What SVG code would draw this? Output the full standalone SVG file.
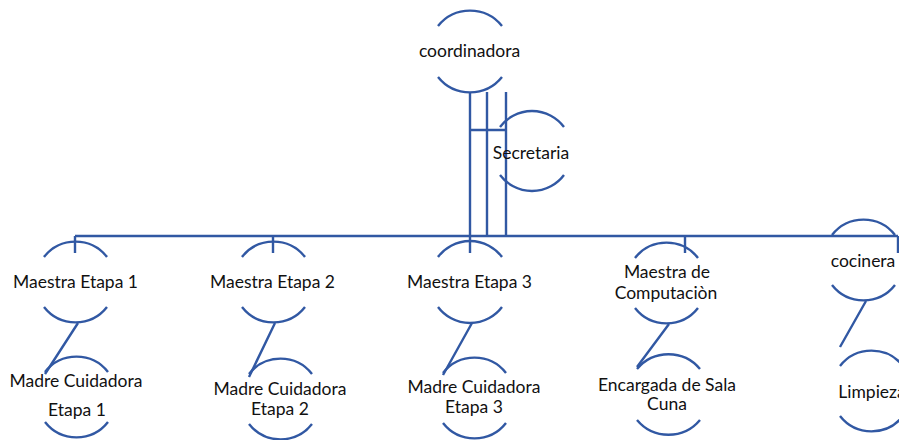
<svg xmlns="http://www.w3.org/2000/svg" width="899" height="440" viewBox="0 0 899 440">
<style>
.ln{fill:none;stroke:#3158A3;stroke-width:2.4;stroke-linecap:butt}
.arc{fill:none;stroke:#3158A3;stroke-width:2.4}
text{font-family:Lato,"Liberation Sans",sans-serif;font-size:17.5px;fill:#111;text-anchor:middle}
</style>
<rect width="899" height="440" fill="#fff"/>
<g id="connectors">
<path class="ln" d="M470 92V253M487 92V236M506 92V236M470 130H506"/>
<path class="ln" d="M75 236H898M75 236V253M273 236V253M685 236V253M898 236V253"/>
<path class="ln" d="M78 323L45 374M275 323L249 377M472 323L443 375M669 324L637 367M866 301L840 347"/>
</g>
<g id="coordinadora">
<path class="arc" d="M438 26A41 41 0 0 1 502 26M438 77A41 41 0 0 0 502 77"/>
<text x="469.5" y="57">coordinadora</text>
</g>
<g id="secretaria">
<path class="arc" d="M500 127A40 40 0 0 1 564 127M500 175A40 40 0 0 0 564 175"/>
<text x="531" y="159">Secretaria</text>
</g>
<g id="maestra1">
<path class="arc" d="M44 257A40 40 0 0 1 107 257M44 307A40 40 0 0 0 107 307"/>
<text x="75.5" y="288">Maestra Etapa 1</text>
</g>
<g id="maestra2">
<path class="arc" d="M242 257A40 40 0 0 1 305 257M242 307A40 40 0 0 0 305 307"/>
<text x="272.5" y="288">Maestra Etapa 2</text>
</g>
<g id="maestra3">
<path class="arc" d="M438 257A40 40 0 0 1 502 257M438 307A40 40 0 0 0 502 307"/>
<text x="469.5" y="288">Maestra Etapa 3</text>
</g>
<g id="computacion">
<path class="arc" d="M635 258A40 40 0 0 1 698 258M635 308A40 40 0 0 0 698 308"/>
<text x="667" y="278">Maestra de</text>
<text x="666" y="299">Computaciòn</text>
</g>
<g id="cocinera">
<path class="arc" d="M832 235A40 40 0 0 1 895 235M832 285A40 40 0 0 0 895 285"/>
<text x="863" y="267">cocinera</text>
</g>
<g id="madre1">
<path class="arc" d="M45 372A40 40 0 0 1 108 372M45 422A40 40 0 0 0 108 422"/>
<text x="76" y="387">Madre Cuidadora</text>
<text x="77" y="416">Etapa 1</text>
</g>
<g id="madre2">
<path class="arc" d="M249 374A40 40 0 0 1 312 374M249 424A40 40 0 0 0 312 424"/>
<text x="280" y="395">Madre Cuidadora</text>
<text x="280" y="415">Etapa 2</text>
</g>
<g id="madre3">
<path class="arc" d="M443 373A40 40 0 0 1 506 373M443 423A40 40 0 0 0 506 423"/>
<text x="474" y="393">Madre Cuidadora</text>
<text x="474" y="413">Etapa 3</text>
</g>
<g id="encargada">
<path class="arc" d="M637 369A41 41 0 0 1 700 369M637 420A41 41 0 0 0 700 420"/>
<text x="667" y="391">Encargada de Sala</text>
<text x="667" y="410">Cuna</text>
</g>
<g id="limpieza">
<path class="arc" d="M840 366A40 40 0 0 1 903 366M840 416A40 40 0 0 0 903 416"/>
<text x="872" y="398">Limpieza</text>
</g>
</svg>
